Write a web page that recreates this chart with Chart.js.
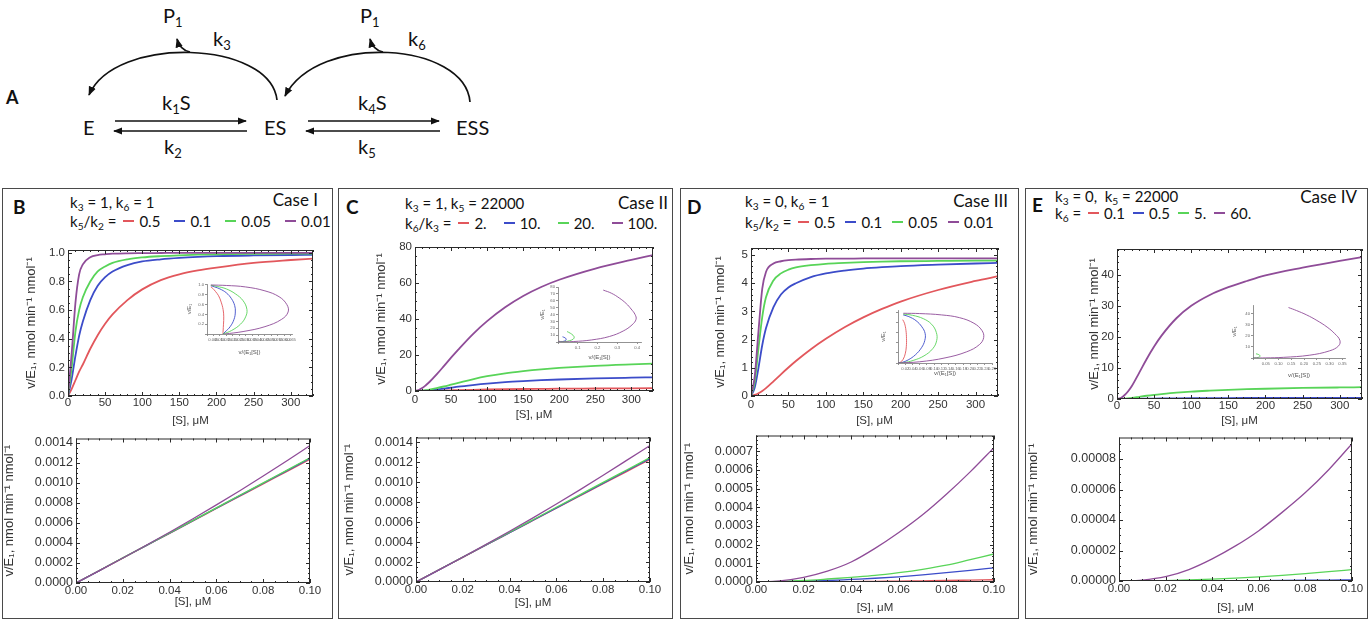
<!DOCTYPE html>
<html>
<head>
<meta charset="utf-8">
<script src="https://cdn.jsdelivr.net/npm/chart.js@4.4.1/dist/chart.umd.min.js"></script>
<style>
  html, body { margin: 0; padding: 0; }
  body {
    width: 1371px; height: 622px; position: relative; overflow: hidden;
    background: #fff; font-family: Lato, 'Open Sans', sans-serif; color: #111;
  }
  canvas { position: absolute; }
  .box { position: absolute; border: 1.5px solid #4a4a4a; box-sizing: border-box; }
  .txt { position: absolute; white-space: nowrap; line-height: 18px; font-size: 15px; }
  .letter { font-weight: bold; font-size: 19px; }
  .case { font-size: 17px; }
  .txt sub { font-size: 68%; vertical-align: -0.3em; line-height: 0; }
  .leg { display: flex; align-items: center; }
  .dash { display: inline-block; width: 11px; height: 1.6px; }
  #scheme { position: absolute; left: 0; top: 0; }
  #scheme text { font-family: Lato, 'Open Sans', sans-serif; font-size: 20px; fill: #111; }
</style>
</head>
<body>

<svg id="scheme" width="560" height="170" viewBox="0 0 560 170">
  <defs>
    <marker id="ah" viewBox="0 0 10 10" refX="9" refY="5" markerWidth="5.5" markerHeight="5.5" orient="auto">
      <path d="M0,1 L10,5 L0,9 z" fill="#111"/>
    </marker>
  </defs>
  <g stroke="#111" stroke-width="1.7" fill="none">
    <line x1="115" y1="121" x2="246" y2="121" marker-end="url(#ah)"/>
    <line x1="247" y1="131" x2="114" y2="131" marker-end="url(#ah)"/>
    <line x1="308" y1="121" x2="439" y2="121" marker-end="url(#ah)"/>
    <line x1="440" y1="131" x2="306" y2="131" marker-end="url(#ah)"/>
    <path d="M277 100 C270 40, 115 35, 89 95" marker-end="url(#ah)"/>
    <path d="M190 52 Q180 50 177 39" marker-end="url(#ah)"/>
    <path d="M470 102 C465 42, 318 32, 285 96" marker-end="url(#ah)"/>
    <path d="M383 52 Q373 50 370 39" marker-end="url(#ah)"/>
  </g>
  <text x="6" y="104" style="font-weight:bold;font-size:18px">A</text>
  <text x="83" y="135">E</text>
  <text x="264" y="135">ES</text>
  <text x="456" y="135">ESS</text>
  <text x="162" y="110">k<tspan dy="4" style="font-size:13px">1</tspan><tspan dy="-4">S</tspan></text>
  <text x="164" y="154">k<tspan dy="4" style="font-size:13px">2</tspan></text>
  <text x="358" y="110">k<tspan dy="4" style="font-size:13px">4</tspan><tspan dy="-4">S</tspan></text>
  <text x="358" y="154">k<tspan dy="4" style="font-size:13px">5</tspan></text>
  <text x="163" y="23">P<tspan dy="4" style="font-size:13px">1</tspan></text>
  <text x="213" y="46">k<tspan dy="4" style="font-size:13px">3</tspan></text>
  <text x="360" y="23">P<tspan dy="4" style="font-size:13px">1</tspan></text>
  <text x="408" y="46">k<tspan dy="4" style="font-size:13px">6</tspan></text>
</svg>

<script>
// substrate grids, µM
const sTop = [0, 5, 10, 15, 20, 30, 40, 50, 60, 80, 100, 125, 150, 175, 200, 250, 300, 330];
const sLow = [0, 0.01, 0.02, 0.03, 0.04, 0.05, 0.06, 0.07, 0.08, 0.09, 0.1];

// Case I, v/E1 over the full range
const c1TopRed    = [0, 0.05, 0.11, 0.17, 0.22, 0.33, 0.425, 0.505, 0.57, 0.67, 0.745, 0.81, 0.85, 0.877, 0.897, 0.93, 0.95, 0.96];
const c1TopBlue   = [0, 0.12, 0.28, 0.42, 0.52, 0.67, 0.77, 0.83, 0.87, 0.915, 0.94, 0.955, 0.965, 0.972, 0.977, 0.982, 0.985, 0.986];
const c1TopGreen  = [0, 0.2, 0.45, 0.6, 0.69, 0.8, 0.87, 0.905, 0.93, 0.955, 0.968, 0.977, 0.983, 0.987, 0.99, 0.993, 0.995, 0.995];
const c1TopPurple = [0, 0.3, 0.65, 0.85, 0.92, 0.97, 0.985, 0.99, 0.994, 0.997, 0.998, 0.999, 1, 1, 1, 1, 1, 1];
// Case I, low substrate
const c1LowRed    = [0, 0.000124, 0.000248, 0.000372, 0.000495, 0.000619, 0.000742, 0.000865, 0.000988, 0.00111, 0.001233];
const c1LowBlue   = [0, 0.000124, 0.000249, 0.000373, 0.000497, 0.000622, 0.000746, 0.00087, 0.000994, 0.001118, 0.001242];
const c1LowGreen  = [0, 0.000125, 0.00025, 0.000374, 0.000499, 0.000624, 0.000749, 0.000874, 0.000998, 0.001123, 0.001248];
const c1LowPurple = [0, 0.000124, 0.000249, 0.000376, 0.000506, 0.00064, 0.000778, 0.00092, 0.001066, 0.001216, 0.00137];

// Case II
const c2TopRed    = [0, 0.005, 0.02, 0.05, 0.1, 0.2, 0.3, 0.4, 0.5, 0.67, 0.82, 0.97, 1.1, 1.2, 1.3, 1.4, 1.5, 1.55];
const c2TopBlue   = [0, 0.02, 0.1, 0.2, 0.4, 0.8, 1.3, 1.85, 2.4, 3.3, 4.1, 4.9, 5.5, 6, 6.4, 7, 7.4, 7.6];
const c2TopGreen  = [0, 0.05, 0.2, 0.45, 0.8, 1.6, 2.5, 3.5, 4.5, 6.5, 8.2, 9.8, 11, 12, 12.8, 14, 14.8, 15.2];
const c2TopPurple = [0, 0.5, 1.6, 3.2, 5.0, 9.2, 13.8, 18.5, 23, 31.5, 38.8, 46.5, 52.8, 57.8, 61.8, 68, 72.8, 75.5];
const c2LowRed    = [0, 0.000124, 0.000247, 0.000371, 0.000494, 0.000617, 0.00074, 0.000863, 0.000986, 0.001108, 0.00123];
const c2LowBlue   = [0, 0.000124, 0.000248, 0.000372, 0.000496, 0.00062, 0.000744, 0.000868, 0.000992, 0.001116, 0.00124];
const c2LowGreen  = [0, 0.000125, 0.00025, 0.000375, 0.0005, 0.000625, 0.00075, 0.000875, 0.001, 0.001124, 0.001248];
const c2LowPurple = [0, 0.000124, 0.00025, 0.000378, 0.000509, 0.000644, 0.000783, 0.000925, 0.001071, 0.00122, 0.00137];

// Case III
const c3TopRed    = [0, 0.04, 0.1, 0.18, 0.28, 0.52, 0.77, 1.01, 1.24, 1.66, 2.03, 2.44, 2.79, 3.09, 3.35, 3.76, 4.08, 4.25];
const c3TopBlue   = [0, 0.3, 1.0, 1.8, 2.4, 3.15, 3.6, 3.85, 4.0, 4.22, 4.35, 4.45, 4.52, 4.57, 4.61, 4.66, 4.7, 4.72];
const c3TopGreen  = [0, 0.5, 1.7, 2.8, 3.5, 4.1, 4.35, 4.48, 4.56, 4.64, 4.69, 4.72, 4.75, 4.77, 4.78, 4.79, 4.8, 4.8];
const c3TopPurple = [0, 0.7, 2.3, 3.8, 4.4, 4.7, 4.78, 4.82, 4.84, 4.86, 4.87, 4.87, 4.88, 4.88, 4.88, 4.88, 4.88, 4.88];
const c3LowRed    = [0, 0, 0.000001, 0.0000015, 0.000002, 0.0000035, 0.000005, 0.0000065, 0.000008, 0.00001, 0.000012];
const c3LowBlue   = [0, 0.000001, 0.000004, 0.000008, 0.000014, 0.00002, 0.000028, 0.000038, 0.00005, 0.000062, 0.000076];
const c3LowGreen  = [0, 0.000003, 0.000008, 0.000016, 0.000025, 0.000035, 0.00005, 0.000068, 0.00009, 0.00012, 0.00015];
const c3LowPurple = [0, 0.000006, 0.000025, 0.000058, 0.000107, 0.00018, 0.000265, 0.00036, 0.00047, 0.00059, 0.00072];

// Case IV
const c4TopRed    = [0, 0.001, 0.002, 0.004, 0.007, 0.014, 0.021, 0.027, 0.032, 0.041, 0.048, 0.054, 0.059, 0.063, 0.066, 0.071, 0.074, 0.076];
const c4TopBlue   = [0, 0.003, 0.01, 0.022, 0.035, 0.07, 0.105, 0.135, 0.16, 0.205, 0.24, 0.27, 0.295, 0.315, 0.33, 0.355, 0.372, 0.38];
const c4TopGreen  = [0, 0.03, 0.1, 0.22, 0.35, 0.7, 1.05, 1.35, 1.6, 2.05, 2.4, 2.7, 2.95, 3.15, 3.3, 3.55, 3.72, 3.8];
const c4TopPurple = [0, 0.3, 1.2, 2.5, 4.2, 8.5, 12.9, 16.9, 20.4, 26, 30, 33.5, 36, 38, 39.8, 42.3, 44.5, 45.7];
const c4LowRed    = [0, 0, 0.000000006, 0.000000014, 0.000000024, 0.000000038, 0.000000054, 0.000000074, 0.000000096, 0.00000012, 0.00000015];
const c4LowBlue   = [0, 0.000000008, 0.00000003, 0.00000007, 0.00000012, 0.00000019, 0.00000027, 0.00000037, 0.00000048, 0.00000061, 0.00000075];
const c4LowGreen  = [0, 0.00000008, 0.0000003, 0.0000007, 0.0000012, 0.0000019, 0.0000027, 0.0000037, 0.0000048, 0.0000061, 0.0000075];
const c4LowPurple = [0, 0.0000006, 0.0000028, 0.0000075, 0.0000145, 0.000023, 0.000033, 0.000045, 0.000058, 0.000073, 0.00009];

// inset curves: [v/(E1[S]), v/E1]
const ins1Red    = [[0.003, 0.96], [0.0045, 0.93], [0.0065, 0.87], [0.009, 0.78], [0.011, 0.65], [0.0125, 0.5], [0.013, 0.35], [0.0128, 0.2], [0.0125, 0.06], [0.0124, 0]];
const ins1Blue   = [[0.003, 0.985], [0.006, 0.96], [0.01, 0.92], [0.015, 0.84], [0.019, 0.72], [0.0215, 0.58], [0.022, 0.45], [0.021, 0.3], [0.018, 0.15], [0.014, 0.04], [0.0124, 0]];
const ins1Green  = [[0.003, 0.995], [0.008, 0.97], [0.015, 0.92], [0.022, 0.82], [0.028, 0.68], [0.031, 0.5], [0.03, 0.35], [0.026, 0.2], [0.019, 0.07], [0.0125, 0]];
const ins1Purple = [[0.003, 1.0], [0.015, 0.99], [0.03, 0.96], [0.045, 0.88], [0.056, 0.76], [0.062, 0.6], [0.063, 0.45], [0.058, 0.3], [0.045, 0.15], [0.028, 0.05], [0.0137, 0]];

const ins2Red    = [[0.005, 1.55], [0.008, 1.2], [0.0085, 0.8], [0.007, 0.4], [0.003, 0.1], [0, 0]];
const ins2Blue   = [[0.023, 7.6], [0.035, 6.2], [0.041, 4.5], [0.04, 2.8], [0.032, 1.3], [0.015, 0.3], [0, 0]];
const ins2Green  = [[0.046, 15.2], [0.062, 12.8], [0.076, 9.8], [0.082, 7], [0.077, 4.2], [0.06, 2], [0.034, 0.6], [0, 0]];
const ins2Purple = [[0.229, 75.5], [0.27, 71], [0.31, 64], [0.345, 56], [0.37, 48], [0.39, 40], [0.395, 33], [0.375, 25], [0.33, 16], [0.26, 8], [0.17, 3], [0.08, 0.7], [0, 0]];

const ins3Red    = [[0.013, 4.25], [0.018, 3.9], [0.022, 3.2], [0.0235, 2.4], [0.023, 1.6], [0.02, 0.9], [0.014, 0.35], [0.006, 0.06], [0, 0]];
const ins3Blue   = [[0.0143, 4.72], [0.03, 4.55], [0.05, 4.15], [0.066, 3.55], [0.075, 2.9], [0.074, 2.2], [0.065, 1.5], [0.048, 0.8], [0.028, 0.3], [0.01, 0.04], [0, 0]];
const ins3Green  = [[0.0145, 4.8], [0.04, 4.68], [0.07, 4.35], [0.093, 3.8], [0.106, 3.0], [0.107, 2.2], [0.096, 1.4], [0.072, 0.7], [0.042, 0.25], [0.015, 0.03], [0, 0]];
const ins3Purple = [[0.0148, 4.88], [0.06, 4.85], [0.12, 4.72], [0.17, 4.45], [0.21, 3.9], [0.232, 3.2], [0.237, 2.5], [0.225, 1.8], [0.19, 1.1], [0.13, 0.5], [0.06, 0.12], [0, 0]];

const ins4Red    = [[0.00023, 0.076], [0.0003, 0.05], [0.0003, 0.03], [0.0002, 0.01], [0, 0]];
const ins4Blue   = [[0.00115, 0.38], [0.0017, 0.3], [0.0019, 0.2], [0.0016, 0.1], [0.0008, 0.03], [0, 0]];
const ins4Green  = [[0.0117, 3.8], [0.02, 3.3], [0.026, 2.5], [0.028, 1.7], [0.025, 0.9], [0.015, 0.3], [0, 0]];
const ins4Purple = [[0.139, 45.7], [0.17, 43], [0.21, 39], [0.25, 34], [0.29, 28], [0.32, 22], [0.34, 16], [0.335, 11], [0.3, 6.5], [0.22, 2.5], [0.12, 0.6], [0.05, 0.1], [0, 0]];

// legend entries
const legendI   = ['0.5', '0.1', '0.05', '0.01'];
const legendII  = ['2.', '10.', '20.', '100.'];
const legendIII = ['0.5', '0.1', '0.05', '0.01'];
const legendIV  = ['0.1', '0.5', '5.', '60.'];

const curveColors = ['#e2575c', '#3c4cc9', '#58d458', '#8f4c98'];
const tickFamily = "'Liberation Sans', Arial, sans-serif";
const yTitle = 'v/E\u2081, nmol min\u207B\u00B9 nmol\u207B\u00B9';

// closed frame with inward major/minor ticks on all four sides
const frameTicks = {
  id: 'frameTicks',
  afterDatasetsDraw(chart, args, opts) {
    const { ctx, chartArea: a, scales: { x, y } } = chart;
    ctx.save();
    ctx.strokeStyle = '#2a2a2a';
    ctx.lineWidth = 1;
    ctx.strokeRect(a.left + 0.5, a.top + 0.5, a.width - 1, a.height - 1);
    ctx.beginPath();
    const walk = (scale, sub, draw) => {
      const minor = scale.options.ticks.stepSize / sub;
      const n = Math.floor((scale.max - scale.min) / minor + 1e-6);
      for (let i = 0; i <= n; i++) {
        const p = scale.getPixelForValue(scale.min + i * minor);
        draw(Math.round(p) + 0.5, i % sub === 0 ? 4 : 2);
      }
    };
    walk(x, opts.xSub, (p, len) => {
      ctx.moveTo(p, a.bottom); ctx.lineTo(p, a.bottom - len);
      ctx.moveTo(p, a.top); ctx.lineTo(p, a.top + len);
    });
    walk(y, opts.ySub, (p, len) => {
      ctx.moveTo(a.left, p); ctx.lineTo(a.left + len, p);
      ctx.moveTo(a.right, p); ctx.lineTo(a.right - len, p);
    });
    ctx.stroke();
    ctx.restore();
  }
};

function addCanvas(left, top, w, h) {
  const c = document.createElement('canvas');
  c.width = Math.round(w);
  c.height = Math.round(h);
  c.style.left = Math.round(left) + 'px';
  c.style.top = Math.round(top) + 'px';
  document.body.appendChild(c);
  return c;
}

function mainChart(o) {
  const [l, t, r, b] = o.area;
  const padT = 10, padR = 18;
  const cv = addCanvas(l - o.yW, t - padT, o.yW + (r - l) + padR, padT + (b - t) + o.xH);
  const xFont = { family: tickFamily, size: o.fsX };
  const yFont = { family: tickFamily, size: o.fsY };
  const titleFont = { family: tickFamily, size: 13 };
  new Chart(cv, {
    type: 'line',
    data: {
      datasets: o.ys.map((vals, i) => ({
        data: o.xs.map((x, j) => ({ x, y: vals[j] })),
        borderColor: curveColors[i],
        borderWidth: o.lw,
        pointRadius: 0,
        cubicInterpolationMode: 'monotone',
        order: o.ys.length - i
      }))
    },
    options: {
      responsive: false,
      animation: false,
      events: [],
      layout: { padding: { top: padT, right: padR, left: 0, bottom: 0 } },
      plugins: { legend: { display: false }, tooltip: { enabled: false }, frameTicks: { xSub: o.xSub, ySub: o.ySub } },
      scales: {
        x: {
          type: 'linear', min: 0, max: o.xMax,
          grid: { display: false, drawTicks: false },
          border: { display: false },
          ticks: { stepSize: o.xStep, includeBounds: false, autoSkip: false, maxRotation: 0,
                   padding: o.xPad, color: '#333', font: xFont,
                   callback: v => v.toFixed(o.xDec) },
          title: { display: true, text: '[S], \u03BCM', color: '#333', font: xFont, padding: { top: 0, bottom: 0 } },
          afterFit: s => { s.height = o.xH; }
        },
        y: {
          type: 'linear', min: 0, max: o.yMax,
          grid: { display: false, drawTicks: false },
          border: { display: false },
          ticks: { stepSize: o.yStep, includeBounds: false, autoSkip: false,
                   padding: 3, color: '#333', font: yFont,
                   callback: v => v.toFixed(o.yDec) },
          title: { display: true, text: yTitle, color: '#333', font: titleFont, padding: { top: 0, bottom: 0 } },
          afterFit: s => { s.width = o.yW; }
        }
      }
    },
    plugins: [frameTicks]
  });
}

function insetChart(o) {
  const [l, t, r, b] = o.area;
  const padT = 5, padR = 8;
  const cv = addCanvas(l - o.yW, t - padT, o.yW + (r - l) + padR, padT + (b - t) + o.xH);
  const tickFont = { family: tickFamily, size: 4.2 };
  const titleFont = { family: tickFamily, size: 6 };
  const axisLine = { display: true, color: '#777', width: 0.8 };
  const tickMarks = { display: true, drawOnChartArea: false, drawTicks: true, tickLength: 2, color: '#777', lineWidth: 0.8 };
  new Chart(cv, {
    type: 'scatter',
    data: {
      datasets: o.sets.map((pts, i) => ({
        data: pts.map(([x, y]) => ({ x, y })),
        showLine: true,
        borderColor: curveColors[i],
        borderWidth: 0.9,
        pointRadius: 0,
        tension: 0.4,
        order: o.sets.length - i
      }))
    },
    options: {
      responsive: false,
      animation: false,
      events: [],
      layout: { padding: { top: padT, right: padR, left: 0, bottom: 0 } },
      plugins: { legend: { display: false }, tooltip: { enabled: false } },
      scales: {
        x: {
          type: 'linear', min: 0, max: o.xMax,
          grid: tickMarks, border: axisLine,
          ticks: { stepSize: o.xStep, includeBounds: false, autoSkip: false, maxRotation: 0,
                   padding: 1, color: '#666', font: tickFont,
                   callback: v => (v === 0 ? '' : v.toFixed(o.xDec)) },
          title: { display: true, text: 'v/(E\u2081[S])', color: '#555', font: titleFont, padding: { top: 0, bottom: 0 } },
          afterFit: s => { s.height = o.xH; }
        },
        y: {
          type: 'linear', min: 0, max: o.yMax,
          grid: tickMarks, border: axisLine,
          ticks: { stepSize: o.yStep, includeBounds: false, autoSkip: false,
                   display: o.yLabels, padding: 1, color: '#666', font: tickFont,
                   callback: v => (v === 0 ? '' : v.toFixed(o.yDec)) },
          title: { display: true, text: 'v/E\u2081', color: '#555', font: titleFont, padding: { top: 0, bottom: 0 } },
          afterFit: s => { s.width = o.yW; }
        }
      }
    }
  });
}

// panel frames
[[2, 188, 331, 431], [338, 188, 335, 431], [680, 188, 339, 431], [1025, 188, 343, 431]].forEach(([x, y, w, h]) => {
  const d = document.createElement('div');
  d.className = 'box';
  Object.assign(d.style, { left: x + 'px', top: y + 'px', width: w + 'px', height: h + 'px' });
  document.body.appendChild(d);
});

// panel headings
function addText(html, x, cy, cls, alignRight) {
  const d = document.createElement('div');
  d.className = 'txt ' + (cls || '');
  d.innerHTML = html;
  d.style.top = (cy - 9) + 'px';
  if (alignRight) d.style.right = (1371 - x) + 'px';
  else d.style.left = x + 'px';
  document.body.appendChild(d);
  return d;
}

function addLegend(title, labels, x, cy, gap) {
  const d = addText('', x, cy, 'leg');
  d.innerHTML = '<span>' + title + '</span>';
  labels.forEach((lab, i) => {
    const dash = document.createElement('span');
    dash.className = 'dash';
    dash.style.background = curveColors[i];
    dash.style.marginLeft = (i === 0 ? 7 : gap) + 'px';
    const t = document.createElement('span');
    t.textContent = lab;
    t.style.marginLeft = '5px';
    d.appendChild(dash);
    d.appendChild(t);
  });
}

addText('B', 13, 207, 'letter');
addText('k<sub>3</sub> = 1, k<sub>6</sub> = 1', 70, 202);
addText('Case I', 318, 200, 'case', true);
addLegend('k<sub>5</sub>/k<sub>2</sub> =', legendI, 70, 221, 14);

addText('C', 346, 207, 'letter');
addText('k<sub>3</sub> = 1, k<sub>5</sub> = 22000', 405, 203);
addText('Case II', 668, 203, 'case', true);
addLegend('k<sub>6</sub>/k<sub>3</sub> =', legendII, 405, 223, 17);

addText('D', 687, 207, 'letter');
addText('k<sub>3</sub> = 0, k<sub>6</sub> = 1', 745, 201);
addText('Case III', 1008, 201, 'case', true);
addLegend('k<sub>5</sub>/k<sub>2</sub> =', legendIII, 745, 222, 10);

addText('E', 1032, 205, 'letter');
addText('k<sub>3</sub> = 0,&nbsp; k<sub>5</sub> = 22000', 1055, 196);
addText('Case IV', 1357, 197, 'case', true);
addLegend('k<sub>6</sub> =', legendIV, 1055, 213, 8);

// full-range curves
mainChart({ area: [68, 250, 313, 396], yW: 44, xH: 32, xPad: 0, fsX: 11.5, fsY: 11.5, lw: 1.8,
  xs: sTop, ys: [c1TopRed, c1TopBlue, c1TopGreen, c1TopPurple],
  xMax: 330, xStep: 50, xDec: 0, xSub: 5, yMax: 1.02, yStep: 0.2, yDec: 1, ySub: 4 });
mainChart({ area: [415, 247, 653, 391], yW: 41, xH: 31, xPad: 2, fsX: 11.5, fsY: 11.5, lw: 1.8,
  xs: sTop, ys: [c2TopRed, c2TopBlue, c2TopGreen, c2TopPurple],
  xMax: 330, xStep: 50, xDec: 0, xSub: 5, yMax: 80, yStep: 20, yDec: 0, ySub: 4 });
mainChart({ area: [751, 248, 998, 396], yW: 38, xH: 32, xPad: 2, fsX: 11.5, fsY: 11.5, lw: 1.8,
  xs: sTop, ys: [c3TopRed, c3TopBlue, c3TopGreen, c3TopPurple],
  xMax: 330, xStep: 50, xDec: 0, xSub: 5, yMax: 5.25, yStep: 1, yDec: 0, ySub: 5 });
mainChart({ area: [1117, 249, 1362, 399], yW: 30, xH: 29, xPad: 0, fsX: 11.5, fsY: 11.5, lw: 1.8,
  xs: sTop, ys: [c4TopRed, c4TopBlue, c4TopGreen, c4TopPurple],
  xMax: 330, xStep: 50, xDec: 0, xSub: 5, yMax: 48.3, yStep: 10, yDec: 0, ySub: 5 });

// low-substrate curves
mainChart({ area: [76, 438, 310, 583], yW: 74, xH: 26, xPad: 1, fsX: 11.5, fsY: 12.5, lw: 1.3,
  xs: sLow, ys: [c1LowRed, c1LowBlue, c1LowGreen, c1LowPurple],
  xMax: 0.1, xStep: 0.02, xDec: 2, xSub: 4, yMax: 0.00144, yStep: 0.0002, yDec: 4, ySub: 4 });
mainChart({ area: [416, 437, 650, 582], yW: 74, xH: 28, xPad: 1, fsX: 11.5, fsY: 12.5, lw: 1.3,
  xs: sLow, ys: [c2LowRed, c2LowBlue, c2LowGreen, c2LowPurple],
  xMax: 0.1, xStep: 0.02, xDec: 2, xSub: 4, yMax: 0.00145, yStep: 0.0002, yDec: 4, ySub: 4 });
mainChart({ area: [756, 435, 994, 582], yW: 74, xH: 33, xPad: 1, fsX: 11.5, fsY: 12.5, lw: 1.3,
  xs: sLow, ys: [c3LowRed, c3LowBlue, c3LowGreen, c3LowPurple],
  xMax: 0.1, xStep: 0.02, xDec: 2, xSub: 4, yMax: 0.000785, yStep: 0.0001, yDec: 4, ySub: 5 });
mainChart({ area: [1119, 437, 1352, 581], yW: 93, xH: 34, xPad: 1, fsX: 11.5, fsY: 12.5, lw: 1.3,
  xs: sLow, ys: [c4LowRed, c4LowBlue, c4LowGreen, c4LowPurple],
  xMax: 0.1, xStep: 0.02, xDec: 2, xSub: 4, yMax: 0.0000941, yStep: 0.00002, yDec: 5, ySub: 4 });

// Eadie-Hofstee insets
insetChart({ area: [207, 284, 292, 334], yW: 21, xH: 22, yLabels: true,
  sets: [ins1Red, ins1Blue, ins1Green, ins1Purple],
  xMax: 0.066, xStep: 0.005, xDec: 3, yMax: 1.02, yStep: 0.2, yDec: 1 });
insetChart({ area: [558, 287, 641, 342], yW: 19, xH: 19, yLabels: true,
  sets: [ins2Red, ins2Blue, ins2Green, ins2Purple],
  xMax: 0.42, xStep: 0.1, xDec: 1, yMax: 80, yStep: 10, yDec: 0 });
insetChart({ area: [898, 310, 992, 363], yW: 18, xH: 14, yLabels: false,
  sets: [ins3Red, ins3Blue, ins3Green, ins3Purple],
  xMax: 0.26, xStep: 0.02, xDec: 2, yMax: 5.2, yStep: 1, yDec: 0 });
insetChart({ area: [1253, 305, 1345, 358], yW: 22, xH: 21, yLabels: true,
  sets: [ins4Red, ins4Blue, ins4Green, ins4Purple],
  xMax: 0.36, xStep: 0.05, xDec: 2, yMax: 48, yStep: 10, yDec: 0 });
</script>
</body>
</html>
